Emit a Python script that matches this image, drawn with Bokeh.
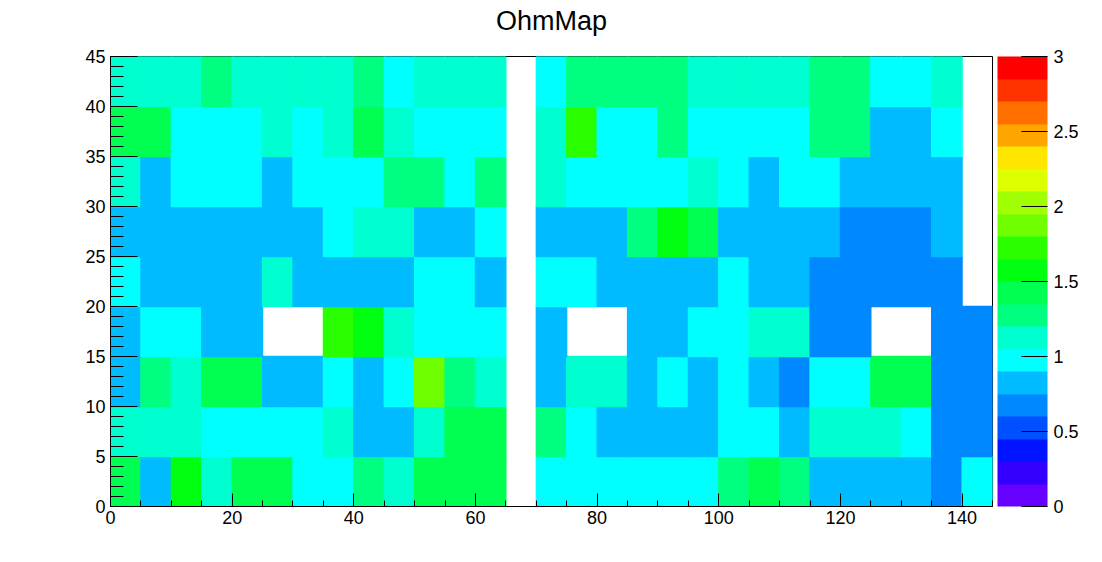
from bokeh.plotting import figure
from bokeh.models import (LinearColorMapper, ColorBar, FixedTicker, SingleIntervalTicker,
                          CustomJSTickFormatter, ColumnDataSource)
from bokeh.transform import transform
from bokeh.embed import file_html
from bokeh.resources import INLINE

N = None
# bin lower edges
x_bins = list(range(0, 145, 5))   # 29 bins, 0..145
y_bins = list(range(0, 45, 5))    # 9 bins, 0..45
bin_w = 5
bin_h = 5

# Ohm values, one list per y-bin (bottom row first); None = empty bin
row_0_5   = [1.42,0.82,1.57,1.12,1.42,1.42,0.97,0.97,1.28,1.12,1.42,1.42,1.42,N,0.97,0.97,0.97,0.97,0.97,0.97,1.28,1.42,1.28,0.82,0.82,0.82,0.82,0.68,0.97]
row_5_10  = [1.12,1.12,1.12,0.97,0.97,0.97,0.97,1.12,0.82,0.82,1.12,1.42,1.42,N,1.28,0.97,0.82,0.82,0.82,0.82,0.97,0.97,0.82,1.12,1.12,1.12,0.97,0.68,0.68]
row_10_15 = [0.82,1.28,1.12,1.42,1.42,0.82,0.82,0.97,0.82,0.97,1.87,1.28,1.12,N,0.82,1.12,1.12,0.82,0.97,0.82,0.97,0.82,0.68,0.97,0.97,1.42,1.42,0.68,0.68]
row_15_20 = [0.82,0.97,0.97,0.82,0.82,N,N,1.72,1.57,1.12,0.97,0.97,0.97,N,0.82,N,N,0.82,0.82,0.97,0.97,1.12,1.12,0.68,0.68,N,N,0.68,0.68]
row_20_25 = [0.97,0.82,0.82,0.82,0.82,1.12,0.82,0.82,0.82,0.82,0.97,0.97,0.82,N,0.97,0.97,0.82,0.82,0.82,0.82,0.97,0.82,0.82,0.68,0.68,0.68,0.68,0.68,N]
row_25_30 = [0.82,0.82,0.82,0.82,0.82,0.82,0.82,0.97,1.12,1.12,0.82,0.82,0.97,N,0.82,0.82,0.82,1.28,1.57,1.42,0.82,0.82,0.82,0.82,0.68,0.68,0.68,0.82,N]
row_30_35 = [1.12,0.82,0.97,0.97,0.97,0.82,0.97,0.97,0.97,1.28,1.28,0.97,1.28,N,1.12,0.97,0.97,0.97,0.97,1.12,0.97,0.82,0.97,0.97,0.82,0.82,0.82,0.82,N]
row_35_40 = [1.42,1.42,0.97,0.97,0.97,1.12,0.97,1.12,1.42,1.12,0.97,0.97,0.97,N,1.12,1.72,0.97,0.97,1.28,0.97,0.97,0.97,0.97,1.28,1.28,0.82,0.82,0.97,N]
row_40_45 = [1.12,1.12,1.12,1.28,1.12,1.12,1.12,1.12,1.28,0.97,1.12,1.12,1.12,N,0.97,1.28,1.28,1.28,1.28,1.12,1.12,1.12,1.12,1.28,1.28,0.97,0.97,1.12,N]
rows = [row_0_5, row_5_10, row_10_15, row_15_20, row_20_25, row_25_30, row_30_35, row_35_40, row_40_45]

title_text = "OhmMap"
x_ticks_major = 20
y_ticks_major = 5
z_low, z_high = 0, 3
z_ticks = [0, 0.5, 1, 1.5, 2, 2.5, 3]

PALETTE = ["#6600ff", "#3300ff", "#0014ff", "#0050ff", "#0088ff", "#00bbff", "#00ffff",
           "#00ffd0", "#00ff80", "#00ff50", "#00ff10", "#2aff00", "#70ff00", "#a0ff00",
           "#ddff00", "#ffe600", "#ffa500", "#ff7000", "#ff3300", "#ff0000"]

xc, yc, zv = [], [], []
for yi, row in zip(y_bins, rows):
    for xi, v in zip(x_bins, row):
        if v is None:
            continue
        xc.append(xi + bin_w / 2)
        yc.append(yi + bin_h / 2)
        zv.append(v)
src = ColumnDataSource(dict(x=xc, y=yc, z=zv))

mapper = LinearColorMapper(palette=PALETTE, low=z_low, high=z_high, nan_color="white")

FONT = "Liberation Sans"
p = figure(width=1102, height=562, x_range=(0, 145), y_range=(0, 45),
           output_backend="svg", toolbar_location=None,
           min_border_left=110, min_border_right=110, min_border_top=56, min_border_bottom=56)
p.rect(x="x", y="y", width=bin_w, height=bin_h, source=src,
       fill_color=transform("z", mapper), line_color=transform("z", mapper), line_width=1.3)

p.title.text = title_text
p.title.align = "center"
p.title.vertical_align = "top"
p.title.text_font = FONT
p.title.text_font_size = "27px"
p.title.text_font_style = "normal"
p.title.text_color = "black"
try:
    p.title.padding = dict(top=0, right=0, bottom=14, left=0)
    p.title.standoff = 10
except Exception:
    p.title.standoff = 24

p.grid.visible = False
p.outline_line_color = "black"
p.outline_line_width = 1
p.background_fill_color = "white"
p.border_fill_color = "white"

xa = p.xaxis[0]
xa.ticker = SingleIntervalTicker(interval=x_ticks_major, num_minor_ticks=4)
xa.major_tick_in = 13
xa.major_tick_out = 0
xa.minor_tick_in = 6
xa.minor_tick_out = 0
xa.major_label_standoff = 4

ya = p.yaxis[0]
ya.ticker = SingleIntervalTicker(interval=y_ticks_major, num_minor_ticks=5)
ya.major_tick_in = 27
ya.major_tick_out = 0
ya.minor_tick_in = 13
ya.minor_tick_out = 0
ya.major_label_standoff = 5

for ax in (xa, ya):
    ax.axis_line_color = "black"
    ax.major_tick_line_color = "black"
    ax.minor_tick_line_color = "black"
    ax.major_label_text_font = FONT
    ax.major_label_text_font_size = "18px"
    ax.major_label_text_color = "black"

cb = ColorBar(color_mapper=mapper, ticker=FixedTicker(ticks=z_ticks),
              formatter=CustomJSTickFormatter(code="return String(tick)"),
              width=50, padding=0, margin=0, label_standoff=6, location=(5, 0),
              major_tick_in=26, major_tick_out=0, major_tick_line_color="black",
              minor_tick_line_color=None, bar_line_color=None,
              major_label_text_font=FONT, major_label_text_font_size="18px",
              major_label_text_color="black", background_fill_color=None,
              border_line_color=None)
p.add_layout(cb, "right")

open("out.html", "w").write(file_html(p, INLINE))
